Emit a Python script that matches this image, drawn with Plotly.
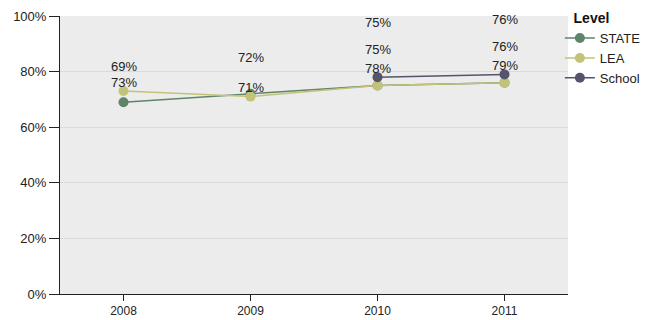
import plotly.graph_objects as go

years = ["2008", "2009", "2010", "2011"]
series_names = ["STATE", "LEA", "School"]
state_pct = [69, 72, 75, 76]
lea_pct = [73, 71, 75, 76]
school_pct = [None, None, 78, 79]
y_ticks = [0, 20, 40, 60, 80, 100]

series_values = [state_pct, lea_pct, school_pct]
series_colors = ["#5f8468", "#c2c27a", "#55546c"]

fig = go.Figure()
for name, vals, color in zip(series_names, series_values, series_colors):
    fig.add_trace(go.Scatter(
        x=years, y=vals, name=name, mode="lines+markers",
        line=dict(color=color, width=1.5),
        marker=dict(color=color, size=10, line=dict(width=0)),
        connectgaps=False,
    ))

# value labels stacked above each year's points: later series sit lowest
for i, yr in enumerate(years):
    for s, vals in enumerate(series_values):
        v = vals[i]
        if v is None:
            continue
        k = sum(1 for t in series_values[s + 1:] if t[i] is not None)
        fig.add_annotation(
            x=i, y=v, xref="x", yref="y", text=f"{v}%", showarrow=False,
            yanchor="middle", yshift=9 + 27 * k,
            font=dict(size=13, color="#222222"),
        )

fig.update_layout(
    width=652, height=320,
    margin=dict(l=60, r=84, t=16, b=26, autoexpand=False),
    paper_bgcolor="white",
    plot_bgcolor="#ececec",
    font=dict(family="Liberation Sans, Arial, sans-serif", size=13, color="#222222"),
    showlegend=True,
    legend=dict(
        title=dict(text="&nbsp;&nbsp;&nbsp;<b>Level</b>", font=dict(size=14, color="#111111")),
        x=0.984, xanchor="left", y=1.04, yanchor="top",
        font=dict(size=13, color="#222222"),
        bgcolor="rgba(0,0,0,0)", tracegroupgap=0, itemwidth=30,
    ),
    xaxis=dict(
        type="category", range=[-0.5, 3.5],
        showline=True, linecolor="#222222", linewidth=1,
        ticks="outside", ticklen=6, tickcolor="#222222",
        showgrid=False, zeroline=False,
        tickfont=dict(size=12),
    ),
    yaxis=dict(
        range=[0, 100], tickvals=y_ticks,
        ticktext=[f"{t}%" for t in y_ticks],
        showline=True, linecolor="#222222", linewidth=1,
        ticks="outside", ticklen=10, tickcolor="#222222",
        showgrid=True, gridcolor="#dadada", gridwidth=1,
        zeroline=False, tickfont=dict(size=13),
    ),
)

fig.write_html("out.html")
